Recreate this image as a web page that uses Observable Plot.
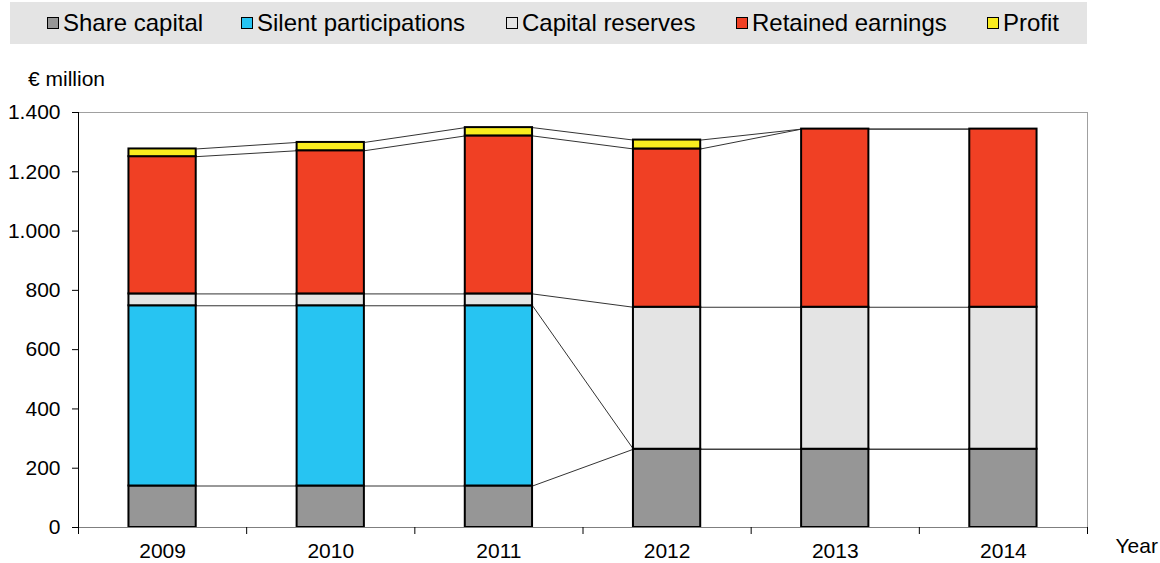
<!DOCTYPE html>
<html>
<head>
<meta charset="utf-8">
<script src="https://cdn.jsdelivr.net/npm/d3@7"></script>
<script src="https://cdn.jsdelivr.net/npm/@observablehq/plot@0.6"></script>
<style>
  body { margin: 0; background: #fff; font-family: "Liberation Sans", Arial, sans-serif; color: #000; }
  #head { position: relative; width: 1160px; height: 100px; }
  #legend { position: absolute; left: 10px; top: 2px; width: 1077px; height: 42px; background: #e4e4e4; }
  .item { position: absolute; top: 0; height: 42px; display: flex; align-items: center; font-size: 24px; white-space: nowrap; }
  .sw { width: 10px; height: 10px; border: 1.5px solid #000; margin-right: 4px; flex: none; }
  #unit { position: absolute; left: 28px; top: 67px; font-size: 21px; }
  #chart svg { display: block; }
</style>
</head>
<body>
<div id="head">
  <div id="legend"></div>
  <div id="unit">€ million</div>
</div>
<div id="chart"></div>
<script>
// Equity components, € million, stacked bottom to top
const years = [2009, 2010, 2011, 2012, 2013, 2014];
const seriesNames = ["Share capital", "Silent participations", "Capital reserves", "Retained earnings", "Profit"];
const shareCapital = [140, 140, 140, 264, 264, 264];
const silentParticipations = [608, 608, 608, 0, 0, 0];
const capitalReserves = [40, 40, 40, 479, 479, 479];
const retainedEarnings = [463, 483, 533, 534, 601, 601];
const profit = [26, 28, 28, 30, 0, 0];
const yTicks = [0, 200, 400, 600, 800, 1000, 1200, 1400];

// Styling
const seriesColors = ["#969696", "#27c4f2", "#e4e4e4", "#f04024", "#f9ec1f"];
const legendLeft = [37, 231, 496, 726, 977];
const halfBar = 0.2;

const seriesValues = [shareCapital, silentParticipations, capitalReserves, retainedEarnings, profit];

// Legend
const legend = document.getElementById("legend");
seriesNames.forEach((name, i) => {
  const item = document.createElement("div");
  item.className = "item";
  item.style.left = legendLeft[i] + "px";
  const sw = document.createElement("span");
  sw.className = "sw";
  sw.style.background = seriesColors[i];
  item.appendChild(sw);
  item.appendChild(document.createTextNode(name));
  legend.appendChild(item);
});

// Stacked segments and the running top of each series per year
const segments = [];
const tops = seriesNames.map(() => []);
years.forEach((year, j) => {
  let base = 0;
  seriesNames.forEach((name, i) => {
    const v = seriesValues[i][j];
    if (v > 0) segments.push({year, series: name, y1: base, y2: base + v});
    base += v;
    tops[i].push(base);
  });
});

// Series lines joining the segment tops of neighbouring bars
const links = [];
seriesNames.forEach((name, i) => {
  for (let j = 0; j < years.length - 1; j++) {
    links.push({x1: years[j] + halfBar, y1: tops[i][j], x2: years[j + 1] - halfBar, y2: tops[i][j + 1]});
  }
});

const boundaries = d3.range(years[0] - 0.5, years[years.length - 1] + 1, 1);
const fmt = d3.formatLocale({decimal: ",", thousands: ".", grouping: [3], currency: ["", " €"]}).format(",");

const chart = Plot.plot({
  width: 1160,
  height: 463,
  marginTop: 12,
  marginBottom: 36,
  marginLeft: 78,
  marginRight: 73,
  style: {fontFamily: '"Liberation Sans", Arial, sans-serif', fontSize: "21px", color: "#000", background: "transparent"},
  x: {domain: [years[0] - 0.5, years[years.length - 1] + 0.5]},
  y: {domain: [0, 1400]},
  color: {domain: seriesNames, range: seriesColors},
  marks: [
    Plot.frame({stroke: "#a0a0a0"}),
    Plot.link(links, {x1: "x1", y1: "y1", x2: "x2", y2: "y2", stroke: "#333", strokeWidth: 1}),
    Plot.rect(segments, {
      x1: d => d.year - halfBar,
      x2: d => d.year + halfBar,
      y1: "y1",
      y2: "y2",
      fill: "series",
      stroke: "#000",
      strokeWidth: 2
    }),
    Plot.ruleY([0], {stroke: "#7f7f7f"}),
    Plot.ruleX([years[0] - 0.5], {stroke: "#000"}),
    Plot.axisY({ticks: yTicks, tickSize: 6, tickPadding: 12, tickFormat: fmt, label: null, fontSize: 21}),
    Plot.axisX({ticks: boundaries, tickSize: 7, tickFormat: () => "", label: null}),
    Plot.axisX({ticks: years, tickSize: 0, tickPadding: 16, tickFormat: d => String(d), label: null, fontSize: 21}),
    Plot.text(["Year"], {frameAnchor: "bottom-right", dx: 28, dy: 19, textAnchor: "start", lineAnchor: "middle", fontSize: 21})
  ]
});
document.getElementById("chart").appendChild(chart);
</script>
</body>
</html>
